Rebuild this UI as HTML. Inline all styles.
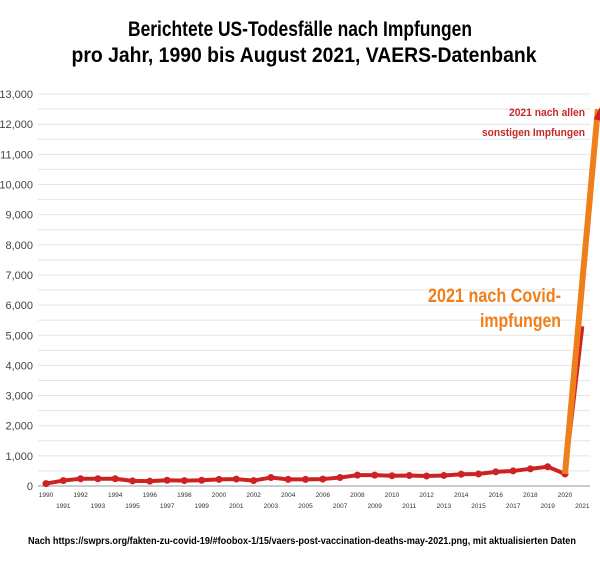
<!DOCTYPE html>
<html><head><meta charset="utf-8"><style>
body{margin:0;background:#fff;}
svg text{font-family:"Liberation Sans",sans-serif;}
</style></head><body>
<svg id="c" width="600" height="556" xmlns="http://www.w3.org/2000/svg">
<text x="300" y="36" text-anchor="middle" font-size="21" font-weight="bold" fill="#000" textLength="344" lengthAdjust="spacingAndGlyphs">Berichtete US-Todesfälle nach Impfungen</text>
<text x="304" y="62" text-anchor="middle" font-size="21" font-weight="bold" fill="#000" textLength="465" lengthAdjust="spacingAndGlyphs">pro Jahr, 1990 bis August 2021, VAERS-Datenbank</text>
<g id="grid"></g><g id="yl"></g><g id="xl"></g><g id="series"></g>
<text x="585" y="116" text-anchor="end" font-size="11" font-weight="bold" fill="#c62828" textLength="76" lengthAdjust="spacingAndGlyphs">2021 nach allen</text>
<text x="585" y="136" text-anchor="end" font-size="11" font-weight="bold" fill="#c62828" textLength="103" lengthAdjust="spacingAndGlyphs">sonstigen Impfungen</text>
<text x="561" y="302" text-anchor="end" font-size="19" font-weight="bold" fill="#ef7f1a" textLength="133" lengthAdjust="spacingAndGlyphs">2021 nach Covid-</text>
<text x="561" y="327" text-anchor="end" font-size="19" font-weight="bold" fill="#ef7f1a" textLength="81" lengthAdjust="spacingAndGlyphs">impfungen</text>
<text x="302" y="544" text-anchor="middle" font-size="10" font-weight="bold" fill="#000" textLength="548" lengthAdjust="spacingAndGlyphs">Nach https://swprs.org/fakten-zu-covid-19/#foobox-1/15/vaers-post-vaccination-deaths-may-2021.png, mit aktualisierten Daten</text>
</svg>
<script>
const years=[1990,1991,1992,1993,1994,1995,1996,1997,1998,1999,2000,2001,2002,2003,2004,2005,2006,2007,2008,2009,2010,2011,2012,2013,2014,2015,2016,2017,2018,2019,2020,2021];
const deaths=[80,180,240,240,240,170,160,190,180,190,220,230,180,280,220,220,230,280,360,360,340,350,330,350,390,400,470,500,570,640,400,5300];
const covidStart=400;
const covidEnd=12500;
const yTicks=[0,1000,2000,3000,4000,5000,6000,7000,8000,9000,10000,11000,12000,13000];
const NS="http://www.w3.org/2000/svg";
const x=i=>46+i*17.3;
const y=v=>486-v*0.03015;
function mk(tag,attrs,parent){const e=document.createElementNS(NS,tag);for(const k in attrs)e.setAttribute(k,attrs[k]);parent.appendChild(e);return e;}
const g=document.getElementById('grid'),yl=document.getElementById('yl'),xl=document.getElementById('xl'),s=document.getElementById('series');
for(let v=0;v<=13000;v+=500){
 const l=mk('line',{x1:38,x2:590,y1:y(v),y2:y(v),stroke:v===0?'#999':'#e4e4e4','stroke-width':1},g);
 
 
}
yTicks.forEach(v=>{
 const t=mk('text',{x:33,y:y(v)+4,'text-anchor':'end','font-size':11,fill:'#444'},yl);
 t.textContent=v.toLocaleString('en-US');
 
 
});
years.forEach((yr,i)=>{
 const t=mk('text',{x:x(i),y:i%2?508:497,'text-anchor':'middle','font-size':6.5,fill:'#333'},xl);
 t.textContent=yr;
 
 
});
const pts=deaths.map((v,i)=>x(i)+','+y(v)).join(' ');
const pl=mk('polyline',{points:pts,fill:'none',stroke:'#cc2222','stroke-width':4,'stroke-linejoin':'round'},s);


deaths.slice(0,31).forEach((v,i)=>{
 const c=mk('circle',{cx:x(i),cy:y(v),r:3.5,fill:'#cc2222'},s);
 
 
});
const cl=mk('line',{x1:x(30),y1:y(covidStart),x2:x(31.9),y2:y(covidEnd),stroke:'#ef7f1a','stroke-width':6},s);


const ar=mk('polygon',{points:`${x(31.9)-4},${y(covidEnd)+10} ${x(31.9)+2},${y(covidEnd)-2} ${x(31.9)+4},${y(covidEnd)+12}`,fill:'#cc2222'},s);


</script>
</body></html>
